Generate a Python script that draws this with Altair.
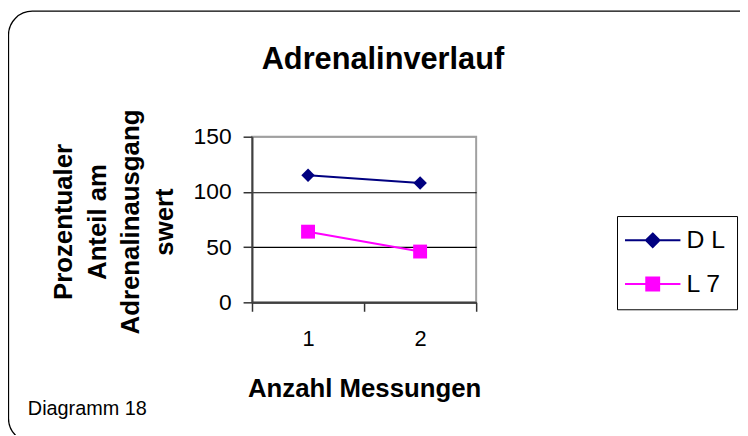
import altair as alt
import pandas as pd

# ---- data ----
measures = ["1", "2"]
series_names = ["D L", "L 7"]
dl_values = [115, 108]
l7_values = [64, 46]
y_ticks = [0, 50, 100, 150]
colors = ["#000080", "#FF00FF"]

rows = []
for m, v in zip(measures, dl_values):
    rows.append({"Messung": m, "Wert": v, "Serie": "D L"})
for m, v in zip(measures, l7_values):
    rows.append({"Messung": m, "Wert": v, "Serie": "L 7"})
df = pd.DataFrame(rows)

FONT = "Liberation Sans, Arial, sans-serif"
W, H = 226, 167

x_enc = alt.X(
    "Messung:O",
    scale=alt.Scale(type="band", paddingInner=0, paddingOuter=0),
    axis=alt.Axis(
        title="Anzahl Messungen", titleFont=FONT, titleFontSize=26, titleFontWeight="bold",
        titleColor="black", titleX=113, titleY=95, titleBaseline="alphabetic", titleAlign="center",
        labelFont=FONT, labelFontSize=22, labelColor="black", labelAngle=0, labelPadding=18,
        tickBand="extent", tickSize=9, tickColor="#333333", tickWidth=1.5,
        domainColor="#404040", domainWidth=2, grid=False,
    ),
)
y_enc = alt.Y(
    "Wert:Q",
    scale=alt.Scale(domain=[0, 150], nice=False, zero=True),
    axis=alt.Axis(
        title=["Prozentualer", "Anteil am", "Adrenalinausgang", "swert"],
        titleFont=FONT, titleFontSize=26, titleFontWeight="bold", titleColor="black",
        titleAngle=270, titleAlign="center", titleBaseline="alphabetic",
        titleX=-182, titleY=85.5, titleLineHeight=34,
        values=y_ticks, labelFont=FONT, labelFontSize=23, labelColor="black", labelPadding=12,
        tickSize=9, tickColor="#333333", tickWidth=1.5,
        domainColor="#404040", domainWidth=2,
        grid=True,
        gridColor={"condition": {"test": "datum.value === 150", "value": "#A0A0A0"}, "value": "black"},
        gridWidth=1.2,
    ),
)

layers = []
shapes_plot = {"D L": ("diamond", 185), "L 7": ("square", 196)}
for name, col in zip(series_names, colors):
    base = alt.Chart(df).transform_filter(alt.datum.Serie == name)
    layers.append(base.mark_line(strokeWidth=2, color=col).encode(x=x_enc, y=y_enc))
    shp, sz = shapes_plot[name]
    layers.append(base.mark_point(shape=shp, filled=True, size=sz, opacity=1, color=col)
                  .encode(x=x_enc, y=y_enc))

# legend-only layer: custom symbols (line + marker), no data drawn
diamond_path = "M-4.3,0H4.3M0,-1.05L1.05,0L0,1.05L-1.05,0Z"
square_path = "M-4.3,0H4.3M-1.0,-1.0H1.0V1.0H-1.0Z"
legend_def = alt.Legend(
    title=None, orient="none", legendX=368, legendY=80,
    strokeColor="black", fillColor="white", padding=12, rowPadding=18,
    labelFont=FONT, labelFontSize=25, labelColor="black",
    symbolSize=169, symbolStrokeWidth=2, symbolOpacity=1,
    symbolOffset=11.5, labelOffset=21.5,
)
legend_layer = alt.Chart(df).transform_filter("false").mark_point(
    filled=True, size=169, opacity=1, strokeWidth=2
).encode(
    x=x_enc, y=y_enc,
    color=alt.Color("Serie:N", scale=alt.Scale(domain=series_names, range=colors), legend=legend_def),
    stroke=alt.Stroke("Serie:N", scale=alt.Scale(domain=series_names, range=colors), legend=legend_def),
    shape=alt.Shape("Serie:N", scale=alt.Scale(domain=series_names, range=[diamond_path, square_path]),
                    legend=legend_def),
)

one = alt.Data(values=[{"k": 1}])
frame = alt.Chart(one).mark_rect(filled=False, color="black", strokeWidth=1.3, cornerRadius=24).encode(
    x=alt.value(-245.5), x2=alt.value(520), y=alt.value(-126.5), y2=alt.value(308)
)
title = alt.Chart(one).mark_text(
    text="Adrenalinverlauf", font=FONT, fontSize=31, fontWeight="bold", color="black",
    align="center", baseline="alphabetic"
).encode(x=alt.value(132), y=alt.value(-68))
note = alt.Chart(one).mark_text(
    text="Diagramm 18", font=FONT, fontSize=20, color="black", align="left", baseline="alphabetic"
).encode(x=alt.value(-226), y=alt.value(281))

chart = alt.layer(frame, *layers, legend_layer, title, note).properties(
    width=W, height=H,
    autosize=alt.AutoSizeParams(type="none"),
    padding={"left": 246, "top": 128, "right": 266, "bottom": 132},
    background="white",
).configure_view(stroke="#A0A0A0", strokeWidth=2)

chart.save("out.html", embed_options={"renderer": "svg", "actions": False})
